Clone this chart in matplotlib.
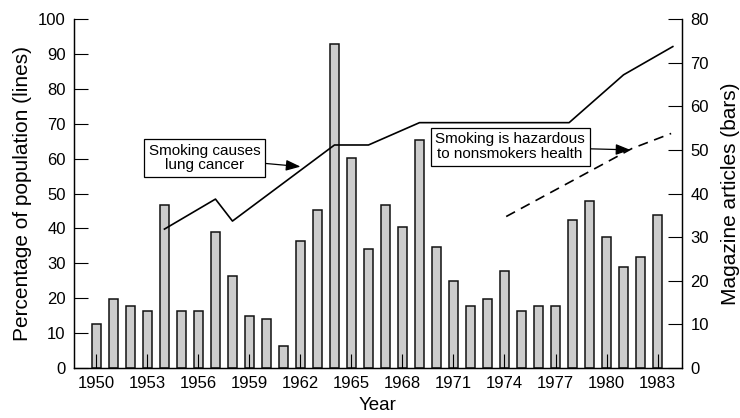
import numpy as np
import matplotlib.pyplot as plt

plt.rcParams['font.family'] = ['Liberation Sans', 'DejaVu Sans']

# Magazine articles per year (bars, right axis)
years = np.arange(1950, 1984)
articles = [10.2, 15.8, 14.2, 13.1, 37.4, 13.1, 13.1, 31.2, 21.0, 11.9,
            11.3, 5.0, 29.0, 36.3, 74.3, 48.2, 27.3, 37.4, 32.3, 52.2,
            27.8, 19.9, 14.2, 15.9, 22.2, 13.1, 14.2, 14.2, 34.0, 38.3,
            30.0, 23.2, 25.5, 35.1]

# "Smoking causes lung cancer" (solid line, left axis)
cancer_years = [1954, 1957, 1958, 1964, 1966, 1969, 1977.8, 1981, 1983.9]
cancer_pct = [39.8, 48.4, 42.1, 63.9, 63.9, 70.3, 70.3, 84.0, 92.1]

# "Smoking is hazardous to nonsmokers health" (dashed line, left axis)
passive_years = [1974.1, 1981.5, 1983.8]
passive_pct = [43.4, 62.9, 67.2]

xticks = np.arange(1950, 1984, 3)

fig = plt.figure(figsize=(7.4, 4.18), dpi=100)
ax1 = fig.add_axes([74/740, 1-368/418, (682-74)/740, (368-19)/418])
ax2 = ax1.twinx()

ax2.bar(years, articles, width=0.5, color='#cccccc', edgecolor='#111111', linewidth=1.1)
ax2.set_ylim(0, 80)
ax2.set_yticks(range(0, 81, 10))
ax2.set_ylabel("Magazine articles (bars)", fontsize=15, labelpad=9)

ax1.set_zorder(ax2.get_zorder() + 1)
ax1.patch.set_visible(False)
ax1.plot(cancer_years, cancer_pct, color='black', lw=1.2)
ax1.plot(passive_years, passive_pct, color='black', lw=1.2, ls=(0, (6, 4)))
ax1.set_xlim(1948.68, 1984.44)
ax1.set_ylim(0, 100)
ax1.set_yticks(range(0, 101, 10))
ax1.set_xticks(xticks)
ax1.set_xlabel("Year", fontsize=13.5)
ax1.set_ylabel("Percentage of population (lines)", fontsize=15)

for ax in (ax1, ax2):
    ax.spines['top'].set_visible(False)
    for s in ax.spines.values():
        s.set_linewidth(0.9)
    ax.tick_params(direction='in', length=10, width=0.8, labelsize=12, pad=6)

box = dict(boxstyle='square,pad=0.3', fc='white', ec='black', lw=0.9)
arrow = dict(arrowstyle='-|>,head_length=0.8,head_width=0.3', color='black', lw=0.9,
             shrinkA=0, shrinkB=0)
ax1.annotate("Smoking causes\nlung cancer", xy=(1962, 57.7), xytext=(1956.35, 60.2),
             ha='center', va='center', fontsize=11, bbox=box, arrowprops=arrow,
             linespacing=1.05)
ax1.annotate("Smoking is hazardous\nto nonsmokers health", xy=(1981.4, 62.5),
             xytext=(1974.33, 63.4), ha='center', va='center', fontsize=11,
             bbox=box, arrowprops=arrow, linespacing=1.05)

fig.savefig("out.png", dpi=100)
